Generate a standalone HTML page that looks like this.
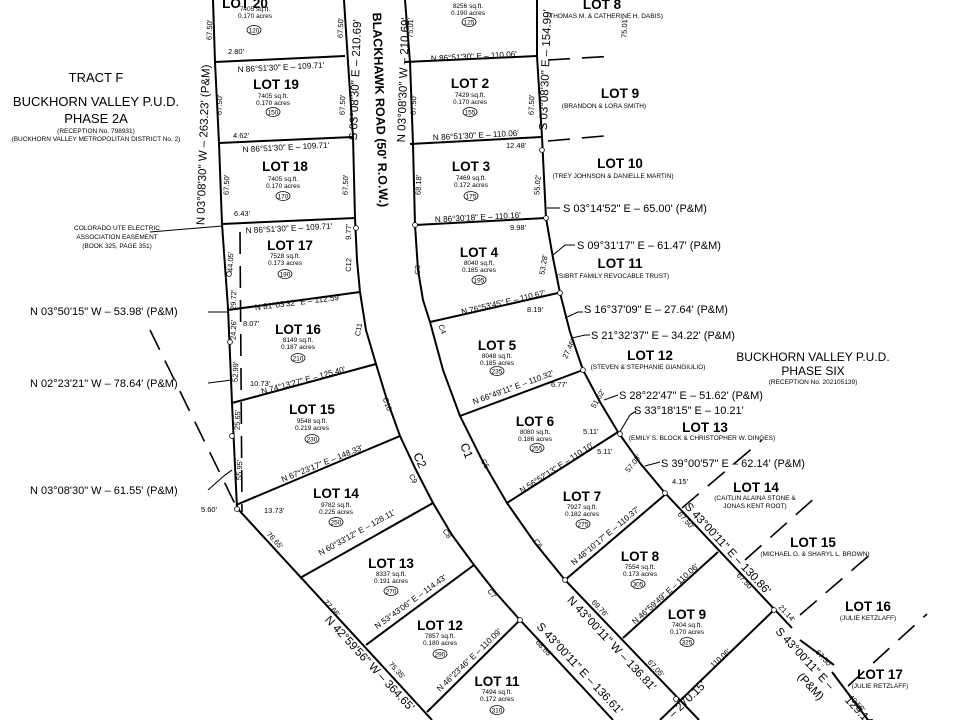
<!DOCTYPE html>
<html><head><meta charset="utf-8"><style>
html,body{margin:0;padding:0;background:#fff;width:960px;height:720px;overflow:hidden}
svg{display:block;font-family:"Liberation Sans",Arial,sans-serif}
.l{stroke:#000;stroke-width:2;fill:none}
.t{stroke:#000;stroke-width:1.1;fill:none}
.d{stroke:#000;stroke-width:1.6;fill:none;stroke-dasharray:22 12}
text{fill:#000}
.lot{font-size:13.5px;font-weight:bold;text-anchor:middle}
.s{font-size:6.5px;text-anchor:middle}
.b{font-size:7.5px;text-anchor:middle}
.bb{font-size:8.2px;text-anchor:middle}
.p{font-size:11px;text-anchor:start}
.big{font-size:11.5px;text-anchor:middle}
.c{fill:#fff;stroke:#000;stroke-width:.8}
</style></head><body>
<svg width="960" height="720" viewBox="0 0 960 720" xmlns="http://www.w3.org/2000/svg">
<polyline class="l" points="213,0 215,62 219,143 222,224 228,308 232,403 237,508"/>
<polyline class="l" points="237,508 432,720"/>
<polyline class="l" points="344,0 348,62 353,137 355,218 357,260 360,292 366,330 376,364 387,400 400,436 416,470 433,503 452,535 474,565 496,593 520,620 613,720"/>
<polyline class="l" points="405,0 410,62 413,144 415,225 418,270 423,300 430,322 443,370 460,416 482,460 507,503 535,543 565,580 699,720"/>
<polyline class="l" points="537,0 537,56 542,137 546,218 553,258 560,293 570,332 583,370 600,402 618,432 640,463 665,493 792,628"/>
<line class="l" x1="800" y1="640" x2="834" y2="665"/>
<line class="l" x1="832" y1="672" x2="868" y2="720"/>
<line class="l" x1="215" y1="62" x2="345" y2="56"/>
<line class="l" x1="219" y1="143" x2="353" y2="137"/>
<line class="l" x1="222" y1="224" x2="355" y2="218"/>
<line class="l" x1="228" y1="310" x2="360" y2="292"/>
<line class="l" x1="232" y1="403" x2="376" y2="364"/>
<line class="l" x1="236" y1="505" x2="400" y2="436"/>
<line class="l" x1="300" y1="578" x2="433" y2="503"/>
<line class="l" x1="366" y1="645" x2="474" y2="565"/>
<line class="l" x1="427" y1="712" x2="520" y2="620"/>
<line class="l" x1="405" y1="62" x2="537" y2="56"/>
<line class="l" x1="410" y1="144" x2="542" y2="137"/>
<line class="l" x1="415" y1="225" x2="546" y2="218"/>
<line class="l" x1="430" y1="322" x2="558" y2="293"/>
<line class="l" x1="460" y1="416" x2="583" y2="370"/>
<line class="l" x1="507" y1="503" x2="618" y2="432"/>
<line class="l" x1="565" y1="580" x2="667" y2="493"/>
<line class="l" x1="623" y1="638" x2="718" y2="552"/>
<line class="l" x1="660" y1="720" x2="774" y2="610"/>
<line class="d" x1="240" y1="232" x2="242" y2="512"/>
<line class="d" x1="150" y1="330" x2="236" y2="506"/>
<line class="d" x1="548" y1="60" x2="615" y2="56"/>
<line class="d" x1="548" y1="141" x2="615" y2="135"/>
<line class="d" x1="682" y1="508" x2="762" y2="440"/>
<line class="d" x1="745" y1="560" x2="817" y2="496"/>
<line class="d" x1="800" y1="615" x2="872" y2="553"/>
<line class="d" x1="848" y1="686" x2="927" y2="614"/>
<polyline class="t" points="150,232 222,226"/>
<polyline class="t" points="208,312 228,312"/>
<polyline class="t" points="208,383 232,380"/>
<polyline class="t" points="208,490 225,475 232,470"/>
<polyline class="t" points="547,208 560,208"/>
<polyline class="t" points="553,255 565,245 575,245"/>
<polyline class="t" points="565,318 578,312 583,312"/>
<polyline class="t" points="572,338 585,335 590,335"/>
<polyline class="t" points="604,400 618,395"/>
<polyline class="t" points="618,435 630,415 636,411"/>
<polyline class="t" points="645,466 660,462"/>
<g class="c"><circle cx="230" cy="342" r="2.4"/><circle cx="232" cy="436" r="2.4"/><circle cx="356" cy="228" r="2.4"/><circle cx="415" cy="225" r="2.4"/><circle cx="546" cy="218" r="2.4"/><circle cx="542" cy="150" r="2.4"/><circle cx="560" cy="293" r="2.4"/><circle cx="583" cy="370" r="2.4"/><circle cx="620" cy="434" r="2.4"/><circle cx="665" cy="493" r="2.4"/><circle cx="565" cy="580" r="2.4"/><circle cx="520" cy="620" r="2.4"/><circle cx="774" cy="610" r="2.4"/><circle cx="676" cy="699" r="2.4"/><circle cx="237" cy="509" r="2.4"/><circle cx="229" cy="274" r="2.4"/></g>

<text class="lot" x="245" y="8">LOT 20</text>
<text class="s" x="255" y="11">7405 sq.ft.</text><text class="s" x="255" y="18">0.170 acres</text>
<ellipse class="c" cx="254" cy="30" rx="7" ry="4.5"/><text class="s" x="254" y="32.5">120</text>
<text class="lot" x="276" y="89">LOT 19</text>
<text class="s" x="273" y="98">7405 sq.ft.</text><text class="s" x="273" y="105">0.170 acres</text>
<ellipse class="c" cx="273" cy="112" rx="7" ry="4.5"/><text class="s" x="273" y="114.5">150</text>
<text class="lot" x="285" y="171">LOT 18</text>
<text class="s" x="283" y="181">7405 sq.ft.</text><text class="s" x="283" y="188">0.170 acres</text>
<ellipse class="c" cx="283" cy="196" rx="7" ry="4.5"/><text class="s" x="283" y="198.5">170</text>
<text class="lot" x="290" y="250">LOT 17</text>
<text class="s" x="285" y="258">7528 sq.ft.</text><text class="s" x="285" y="265">0.173 acres</text>
<ellipse class="c" cx="285" cy="274" rx="7" ry="4.5"/><text class="s" x="285" y="276.5">190</text>
<text class="lot" x="298" y="334">LOT 16</text>
<text class="s" x="298" y="342">8149 sq.ft.</text><text class="s" x="298" y="349">0.187 acres</text>
<ellipse class="c" cx="298" cy="358" rx="7" ry="4.5"/><text class="s" x="298" y="360.5">210</text>
<text class="lot" x="312" y="414">LOT 15</text>
<text class="s" x="312" y="423">9548 sq.ft.</text><text class="s" x="312" y="430">0.219 acres</text>
<ellipse class="c" cx="312" cy="439" rx="7" ry="4.5"/><text class="s" x="312" y="441.5">230</text>
<text class="lot" x="336" y="498">LOT 14</text>
<text class="s" x="336" y="507">9782 sq.ft.</text><text class="s" x="336" y="514">0.225 acres</text>
<ellipse class="c" cx="336" cy="522" rx="7" ry="4.5"/><text class="s" x="336" y="524.5">250</text>
<text class="lot" x="391" y="568">LOT 13</text>
<text class="s" x="391" y="576">8337 sq.ft.</text><text class="s" x="391" y="583">0.191 acres</text>
<ellipse class="c" cx="391" cy="591" rx="7" ry="4.5"/><text class="s" x="391" y="593.5">270</text>
<text class="lot" x="440" y="630">LOT 12</text>
<text class="s" x="440" y="638">7857 sq.ft.</text><text class="s" x="440" y="645">0.180 acres</text>
<ellipse class="c" cx="440" cy="654" rx="7" ry="4.5"/><text class="s" x="440" y="656.5">290</text>
<text class="lot" x="497" y="686">LOT 11</text>
<text class="s" x="497" y="694">7494 sq.ft.</text><text class="s" x="497" y="701">0.172 acres</text>
<ellipse class="c" cx="497" cy="710" rx="7" ry="4.5"/><text class="s" x="497" y="712.5">310</text>

<text class="s" x="468" y="8">8256 sq.ft.</text><text class="s" x="468" y="15">0.190 acres</text>
<ellipse class="c" cx="469" cy="22" rx="7" ry="4.5"/><text class="s" x="469" y="24.5">125</text>
<text class="lot" x="470" y="88">LOT 2</text>
<text class="s" x="470" y="97">7429 sq.ft.</text><text class="s" x="470" y="104">0.170 acres</text>
<ellipse class="c" cx="470" cy="112" rx="7" ry="4.5"/><text class="s" x="470" y="114.5">155</text>
<text class="lot" x="471" y="171">LOT 3</text>
<text class="s" x="471" y="180">7469 sq.ft.</text><text class="s" x="471" y="187">0.172 acres</text>
<ellipse class="c" cx="471" cy="196" rx="7" ry="4.5"/><text class="s" x="471" y="198.5">175</text>
<text class="lot" x="479" y="257">LOT 4</text>
<text class="s" x="479" y="265">8040 sq.ft.</text><text class="s" x="479" y="272">0.185 acres</text>
<ellipse class="c" cx="479" cy="280" rx="7" ry="4.5"/><text class="s" x="479" y="282.5">195</text>
<text class="lot" x="497" y="350">LOT 5</text>
<text class="s" x="497" y="358">8048 sq.ft.</text><text class="s" x="497" y="365">0.185 acres</text>
<ellipse class="c" cx="497" cy="371" rx="7" ry="4.5"/><text class="s" x="497" y="373.5">235</text>
<text class="lot" x="535" y="426">LOT 6</text>
<text class="s" x="535" y="434">8080 sq.ft.</text><text class="s" x="535" y="441">0.186 acres</text>
<ellipse class="c" cx="537" cy="448" rx="7" ry="4.5"/><text class="s" x="537" y="450.5">255</text>
<text class="lot" x="582" y="501">LOT 7</text>
<text class="s" x="582" y="509">7927 sq.ft.</text><text class="s" x="582" y="516">0.182 acres</text>
<ellipse class="c" cx="583" cy="524" rx="7" ry="4.5"/><text class="s" x="583" y="526.5">275</text>
<text class="lot" x="640" y="561">LOT 8</text>
<text class="s" x="640" y="569">7554 sq.ft.</text><text class="s" x="640" y="576">0.173 acres</text>
<ellipse class="c" cx="638" cy="584" rx="7" ry="4.5"/><text class="s" x="638" y="586.5">305</text>
<text class="lot" x="687" y="619">LOT 9</text>
<text class="s" x="687" y="627">7404 sq.ft.</text><text class="s" x="687" y="634">0.170 acres</text>
<ellipse class="c" cx="687" cy="642" rx="7" ry="4.5"/><text class="s" x="687" y="644.5">325</text>

<text class="lot" x="602" y="9">LOT 8</text><text class="s" x="605" y="18">(THOMAS M. &amp; CATHERINE H. DABIS)</text>
<text class="lot" x="620" y="98">LOT 9</text><text class="s" x="604" y="108">(BRANDON &amp; LORA SMITH)</text>
<text class="lot" x="620" y="168">LOT 10</text><text class="s" x="613" y="178">(TREY JOHNSON &amp; DANIELLE MARTIN)</text>
<text class="lot" x="620" y="268">LOT 11</text><text class="s" x="613" y="278">(SIBRT FAMILY REVOCABLE TRUST)</text>
<text class="lot" x="650" y="360">LOT 12</text><text class="s" x="648" y="369">(STEVEN &amp; STEPHANIE GIANGIULIO)</text>
<text class="lot" x="705" y="432">LOT 13</text><text class="s" x="702" y="440">(EMILY S. BLOCK &amp; CHRISTOPHER W. DINGES)</text>
<text class="lot" x="756" y="492">LOT 14</text><text class="s" x="755" y="500">(CAITLIN ALAINA STONE &amp;</text><text class="s" x="755" y="508">JONAS KENT ROOT)</text>
<text class="lot" x="813" y="547">LOT 15</text><text class="s" x="815" y="556">(MICHAEL G. &amp; SHARYL L. BROWN)</text>
<text class="lot" x="868" y="611">LOT 16</text><text class="s" x="868" y="620">(JULIE KETZLAFF)</text>
<text class="lot" x="880" y="679">LOT 17</text><text class="s" x="880" y="688">(JULIE RETZLAFF)</text>

<text x="813" y="361" style="font-size:12px;text-anchor:middle">BUCKHORN VALLEY P.U.D.</text>
<text x="813" y="375" style="font-size:12px;text-anchor:middle">PHASE SIX</text>
<text class="s" x="813" y="384">(RECEPTION No. 202105139)</text>

<text x="96" y="82" style="font-size:13px;text-anchor:middle">TRACT F</text>
<text x="96" y="106" style="font-size:13px;text-anchor:middle">BUCKHORN VALLEY P.U.D.</text>
<text x="96" y="123" style="font-size:13px;text-anchor:middle">PHASE 2A</text>
<text class="s" x="96" y="133">(RECEPTION No. 798931)</text>
<text class="s" x="96" y="141">(BUCKHORN VALLEY METROPOLITAN DISTRICT No. 2)</text>
<text x="117" y="230" style="font-size:6.5px;text-anchor:middle">COLORADO UTE ELECTRIC</text>
<text x="117" y="239" style="font-size:6.5px;text-anchor:middle">ASSOCIATION EASEMENT</text>
<text x="117" y="248" style="font-size:6.5px;text-anchor:middle">(BOOK 325, PAGE 351)</text>

<text class="p" x="30" y="315">N 03°50'15" W – 53.98' (P&amp;M)</text>
<text class="p" x="30" y="387">N 02°23'21" W – 78.64' (P&amp;M)</text>
<text class="p" x="30" y="494">N 03°08'30" W – 61.55' (P&amp;M)</text>
<text class="p" x="563" y="212">S 03°14'52" E – 65.00' (P&amp;M)</text>
<text class="p" x="577" y="249">S 09°31'17" E – 61.47' (P&amp;M)</text>
<text class="p" x="584" y="313">S 16°37'09" E – 27.64' (P&amp;M)</text>
<text class="p" x="591" y="339">S 21°32'37" E – 34.22' (P&amp;M)</text>
<text class="p" x="619" y="399">S 28°22'47" E – 51.62' (P&amp;M)</text>
<text class="p" x="634" y="414">S 33°18'15" E – 10.21'</text>
<text class="p" x="661" y="467">S 39°00'57" E – 62.14' (P&amp;M)</text>

<text class="big" transform="translate(207,145) rotate(-88)">N 03°08'30" W – 263.23' (P&amp;M)</text>
<text class="big" transform="translate(359,80) rotate(-88)">S 03°08'30" E – 210.69'</text>
<text x="0" y="0" style="font-size:12.5px;font-weight:bold;text-anchor:middle" transform="translate(376,110) rotate(88)">BLACKHAWK ROAD (50' R.O.W.)</text>
<text class="big" transform="translate(407,80) rotate(-88)">N 03°08'30" W – 210.69'</text>
<text class="big" transform="translate(549,70) rotate(-88)">S 03°08'30" E – 154.99'</text>
<text class="big" transform="translate(367,666) rotate(47)">N 42°59'56" W – 364.65'</text>
<text class="big" transform="translate(577,671) rotate(47)">S 43°00'11" E – 136.61'</text>
<text class="big" transform="translate(609,646) rotate(47)">N 43°00'11" W – 136.81'</text>
<text class="big" transform="translate(725,551) rotate(47)">S 43°00'11" E – 130.86'</text>
<text class="big" transform="translate(802,661) rotate(47)">S 43°00'11" E –</text>
<text class="big" transform="translate(808,689) rotate(47)">(P&amp;M)</text>
<text class="big" transform="translate(857,714) rotate(47)">129.14'</text>
<text class="big" transform="translate(690,702) rotate(-44)">– 270.15'</text>
<text style="font-size:12px" transform="translate(460,445) rotate(68)">C1</text>
<text style="font-size:12px" transform="translate(413,455) rotate(65)">C2</text>

<g class="bb">
<text transform="translate(281,70) rotate(-3)">N 86°51'30" E – 109.71'</text>
<text transform="translate(286,150) rotate(-3)">N 86°51'30" E – 109.71'</text>
<text transform="translate(289,231) rotate(-3)">N 86°51'30" E – 109.71'</text>
<text transform="translate(298,305) rotate(-7)">N 81°03'32" E – 112.59'</text>
<text transform="translate(304,383) rotate(-15)">N 74°13'27" E – 125.40'</text>
<text transform="translate(323,466) rotate(-22)">N 67°23'17" E – 148.33'</text>
<text transform="translate(358,535) rotate(-29)">N 60°33'12" E – 128.11'</text>
<text transform="translate(412,604) rotate(-36)">N 53°43'06" E – 114.43'</text>
<text transform="translate(471,662) rotate(-44)">N 46°23'46" E – 110.09'</text>
<text transform="translate(474,59) rotate(-3)">N 86°51'30" E – 110.06'</text>
<text transform="translate(476,138) rotate(-3)">N 86°51'30" E – 110.06'</text>
<text transform="translate(478,220) rotate(-3)">N 86°30'18" E – 110.16'</text>
<text transform="translate(504,305) rotate(-13)">N 76°53'45" E – 110.67'</text>
<text transform="translate(514,390) rotate(-20)">N 66°49'11" E – 110.32'</text>
<text transform="translate(558,470) rotate(-33)">N 56°52'13" E – 110.10'</text>
<text transform="translate(607,538) rotate(-40)">N 48°10'17" E – 110.37'</text>
<text transform="translate(667,596) rotate(-42)">N 46°59'49" E – 110.06'</text>
</g>
<g class="b">
<text transform="translate(722,660) rotate(-42)">110.06'</text>
<text transform="translate(212,30) rotate(-88)">67.50'</text>
<text transform="translate(343,28) rotate(-88)">67.50'</text>
<text transform="translate(222,105) rotate(-88)">67.50'</text>
<text transform="translate(345,105) rotate(-88)">67.50'</text>
<text transform="translate(229,185) rotate(-88)">67.50'</text>
<text transform="translate(348,185) rotate(-88)">67.50'</text>
<text transform="translate(233,262) rotate(-88)">44.05'</text>
<text transform="translate(351,232) rotate(-88)">9.77'</text>
<text transform="translate(351,265) rotate(-88)">C12</text>
<text transform="translate(361,330) rotate(-80)">C11</text>
<text transform="translate(236,300) rotate(-88)">29.72'</text>
<text transform="translate(236,330) rotate(-88)">24.26'</text>
<text transform="translate(238,372) rotate(-88)">52.99'</text>
<text transform="translate(240,420) rotate(-88)">25.65'</text>
<text transform="translate(242,470) rotate(-88)">55.95'</text>
<text transform="translate(385,405) rotate(70)">C10</text>
<text transform="translate(411,480) rotate(60)">C9</text>
<text transform="translate(445,535) rotate(55)">C8</text>
<text transform="translate(490,595) rotate(52)">C7</text>
<text transform="translate(440,330) rotate(70)">C4</text>
<text transform="translate(420,270) rotate(-88)">C3</text>
<text transform="translate(483,465) rotate(60)">C5</text>
<text transform="translate(536,545) rotate(55)">C6</text>
<text transform="translate(273,542) rotate(47)">76.65'</text>
<text transform="translate(330,610) rotate(47)">77.66'</text>
<text transform="translate(395,672) rotate(47)">75.35'</text>
<text transform="translate(542,650) rotate(47)">68.65'</text>
<text transform="translate(598,610) rotate(47)">69.76'</text>
<text transform="translate(654,670) rotate(47)">67.05'</text>
<text transform="translate(684,522) rotate(47)">67.50'</text>
<text transform="translate(743,583) rotate(47)">67.50'</text>
<text transform="translate(822,660) rotate(47)">67.50'</text>
<text transform="translate(855,705) rotate(47)">40.50'</text>
<text transform="translate(785,615) rotate(47)">21.14'</text>
<text transform="translate(627,28) rotate(-88)">75.01'</text>
<text transform="translate(413,28) rotate(-88)">75.01'</text>
<text transform="translate(416,105) rotate(-88)">67.50'</text>
<text transform="translate(534,105) rotate(-88)">67.50'</text>
<text transform="translate(421,185) rotate(-88)">68.18'</text>
<text transform="translate(540,185) rotate(-86)">55.02'</text>
<text transform="translate(546,265) rotate(-80)">53.28'</text>
<text transform="translate(571,350) rotate(-65)">27.46'</text>
<text transform="translate(600,400) rotate(-60)">51.62'</text>
<text transform="translate(635,465) rotate(-52)">57.08'</text>
</g>
<g style="font-size:7.5px">
<text x="228" y="54">2.80'</text><text x="233" y="138">4.62'</text><text x="234" y="216">6.43'</text>
<text x="243" y="326">8.07'</text><text x="250" y="386">10.73'</text><text x="264" y="513">13.73'</text>
<text x="201" y="512">5.60'</text>
<text x="506" y="148">12.48'</text><text x="510" y="230">9.98'</text><text x="527" y="312">8.19'</text>
<text x="551" y="387">6.77'</text><text x="583" y="434">5.11'</text><text x="597" y="454">5.11'</text>
<text x="672" y="484">4.15'</text>
</g>
</svg>
</body></html>
